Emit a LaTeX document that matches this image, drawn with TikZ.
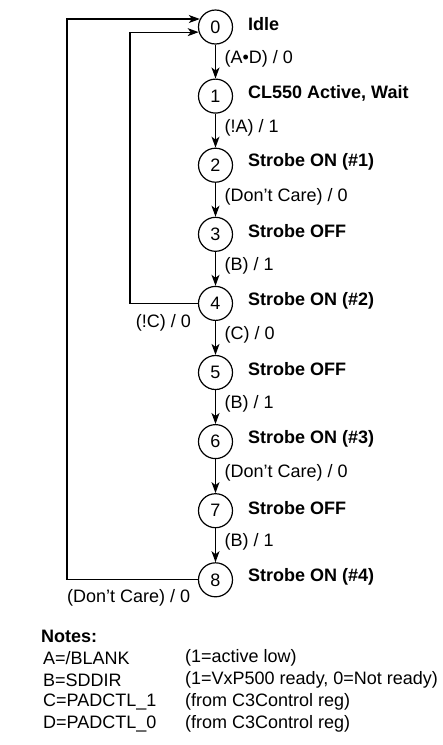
\documentclass[tikz,border=0pt]{standalone}
\usepackage{fontspec}
\setmainfont{Liberation Sans}
\usetikzlibrary{arrows.meta}
\begin{document}
\begin{tikzpicture}[x=1pt,y=-1pt,
  state/.style={circle,draw,line width=1.2pt,minimum size=34pt,inner sep=0pt,font=\fontsize{18}{22}\selectfont},
  lbl/.style={anchor=west,font=\fontsize{18}{22}\selectfont\bfseries,inner sep=0pt},
  elbl/.style={font=\fontsize{18}{22}\selectfont,inner sep=0pt},
  note/.style={anchor=west,font=\fontsize{18}{22}\selectfont,inner sep=0pt},
  arr/.style={line width=1.2pt,-{Stealth[length=11pt,width=8pt,inset=3pt]}}]
\useasboundingbox (0,0) rectangle (443,745);
\foreach \i in {0,...,8}{
  \node[state] (n\i) at (215.5,{27+69.1*\i}) {\i};
}
% state names
\node[lbl] (s0) at (248,{27+69.1*0-3}) {Idle};
\node[lbl] (s1) at (248,{27+69.1*1-3}) {CL550 Active, Wait};
\node[lbl] (s2) at (248,{27+69.1*2-3}) {Strobe ON (\#1)};
\node[lbl] (s3) at (248,{27+69.1*3-3}) {Strobe OFF};
\node[lbl] (s4) at (248,{27+69.1*4-3}) {Strobe ON (\#2)};
\node[lbl] (s5) at (248,{27+69.1*5-3}) {Strobe OFF};
\node[lbl] (s6) at (248,{27+69.1*6-3}) {Strobe ON (\#3)};
\node[lbl] (s7) at (248,{27+69.1*7-3}) {Strobe OFF};
\node[lbl] (s8) at (248,{27+69.1*8-3}) {Strobe ON (\#4)};
% forward transitions
\draw[arr] (n0) -- (n1) node[elbl,anchor=west,pos=0.5,xshift=8.5pt,yshift=3pt] (e0) {(A•D) / 0};
\draw[arr] (n1) -- (n2) node[elbl,anchor=west,pos=0.5,xshift=8.5pt,yshift=3pt] (e1) {(!A) / 1};
\draw[arr] (n2) -- (n3) node[elbl,anchor=west,pos=0.5,xshift=8.5pt,yshift=3pt] (e2) {(Don’t Care) / 0};
\draw[arr] (n3) -- (n4) node[elbl,anchor=west,pos=0.5,xshift=8.5pt,yshift=3pt] (e3) {(B) / 1};
\draw[arr] (n4) -- (n5) node[elbl,anchor=west,pos=0.5,xshift=8.5pt,yshift=3pt] (e4) {(C) / 0};
\draw[arr] (n5) -- (n6) node[elbl,anchor=west,pos=0.5,xshift=8.5pt,yshift=3pt] (e5) {(B) / 1};
\draw[arr] (n6) -- (n7) node[elbl,anchor=west,pos=0.5,xshift=8.5pt,yshift=3pt] (e6) {(Don’t Care) / 0};
\draw[arr] (n7) -- (n8) node[elbl,anchor=west,pos=0.5,xshift=8.5pt,yshift=3pt] (e7) {(B) / 1};
% return loops
\draw[arr] (n4.west) -- ++(-68,0) coordinate (c4) |- (n0.197);
\node[elbl,anchor=east] (e4b) at (191,323) {(!C) / 0};
\draw[arr] (n8.west) -- ++(-131,0) coordinate (c8) |- (n0.153);
\node[elbl,anchor=west] (e8b) at (67,598) {(Don’t Care) / 0};
% notes
\node[note,font=\fontsize{18}{22}\selectfont\bfseries] (nt) at (41,636) {Notes:};
\node[note] (a1) at (43,658) {A=/BLANK};
\node[note] (a2) at (185,658) {(1=active low)};
\node[note] (b1) at (43,680) {B=SDDIR};
\node[note] (b2) at (185,680) {(1=VxP500 ready, 0=Not ready)};
\node[note] (c1) at (43,702) {C=PADCTL\_1};
\node[note] (c2) at (185,702) {(from C3Control reg)};
\node[note] (d1) at (43,724) {D=PADCTL\_0};
\node[note] (d2) at (185,724) {(from C3Control reg)};
\end{tikzpicture}
\end{document}
